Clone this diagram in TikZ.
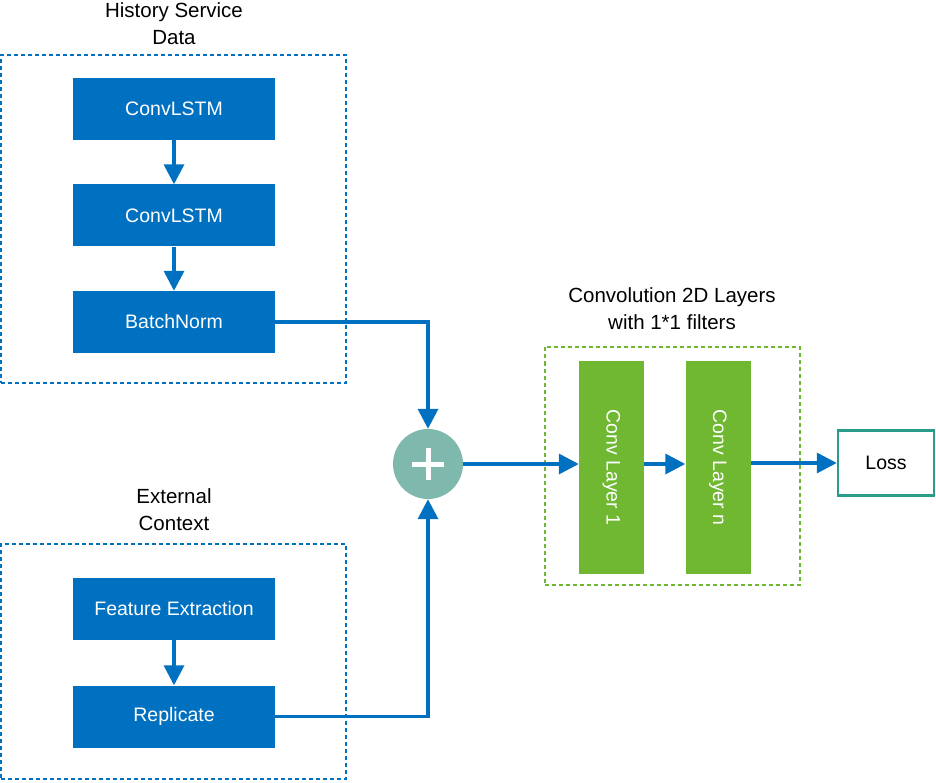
\documentclass[tikz,border=0pt]{standalone}
\usepackage{fontspec}
\setmainfont{Liberation Sans}
\usetikzlibrary{arrows.meta,positioning,calc}
\definecolor{boxblue}{HTML}{0070C0}
\definecolor{convgreen}{HTML}{70B832}
\definecolor{sumteal}{HTML}{7FB8AD}
\definecolor{lossteal}{HTML}{2A9D8A}
\tikzset{
  blk/.style={fill=boxblue,text=white,minimum width=202pt,minimum height=62pt,inner sep=0pt,font=\fontsize{19.5}{22}\selectfont},
  conv/.style={fill=convgreen,text=white,minimum width=65pt,minimum height=213pt,inner sep=0pt,font=\fontsize{19.5}{22}\selectfont},
  grp/.style={draw,dash pattern=on 4pt off 3pt,line width=2pt,minimum width=#1,inner sep=0pt},
  ttl/.style={align=center,font=\fontsize{20.5}{27}\selectfont},
  arr/.style={draw=boxblue,line width=3.5pt,-{Triangle[length=20pt,width=20pt]}}
}
\begin{document}
\begin{tikzpicture}[x=1pt,y=-1pt]
  \useasboundingbox (0,0) rectangle (936,783);
  \node[grp=345pt,draw=boxblue,minimum height=328pt] (hist) at (173.5,219) {};
  \node[grp=345pt,draw=boxblue,minimum height=235pt] (ext) at (173.5,661.5) {};
  \node[grp=255pt,draw=convgreen,minimum height=238pt] (cgrp) at (672.5,465.5) {};
  \node[ttl] (histt) at (174,24) {History Service\\Data};
  \node[ttl] (extt) at (174,510) {External\\Context};
  \node[ttl] (convt) at (672,309) {Convolution 2D Layers\\with 1*1 filters};
  \node[blk] (lstma) at (174,109) {ConvLSTM};
  \node[blk] (lstmb) at (174,215.5) {ConvLSTM};
  \node[blk] (bn) at (174,322) {BatchNorm};
  \node[blk] (feat) at (174,609) {Feature Extraction};
  \node[blk] (rep) at (174,716.5) {Replicate};
  \node[circle,fill=sumteal,minimum size=70pt,inner sep=0pt] (sum) at (428,464) {};
  \draw[white,line width=5pt] ($(sum)+(-16,0)$) -- ($(sum)+(16,0)$) ($(sum)+(0,-16)$) -- ($(sum)+(0,16)$);
  \node[conv] (c1) at (611.5,467.5) {\rotatebox{-90}{Conv Layer 1}};
  \node[conv] (cn) at (718,467.5) {\rotatebox{-90}{Conv Layer n}};
  \node[draw=lossteal,line width=2.5pt,minimum width=96pt,minimum height=65pt,font=\fontsize{19.5}{22}\selectfont] (loss) at (886,463) {Loss};
  \draw[arr] (lstma) -- (lstmb);
  \draw[arr] (lstmb) -- (bn);
  \draw[arr] (feat) -- (rep);
  \draw[arr] (bn.east) -| (sum.north);
  \draw[arr] (rep.east) -| (sum.south);
  \draw[arr] (sum.east) -- (sum.east -| c1.west);
  \draw[arr] (c1.east |- sum.east) -- (cn.west |- sum.east);
  \draw[arr] (cn.east |- loss.west) -- (loss.west);
\end{tikzpicture}
\end{document}
